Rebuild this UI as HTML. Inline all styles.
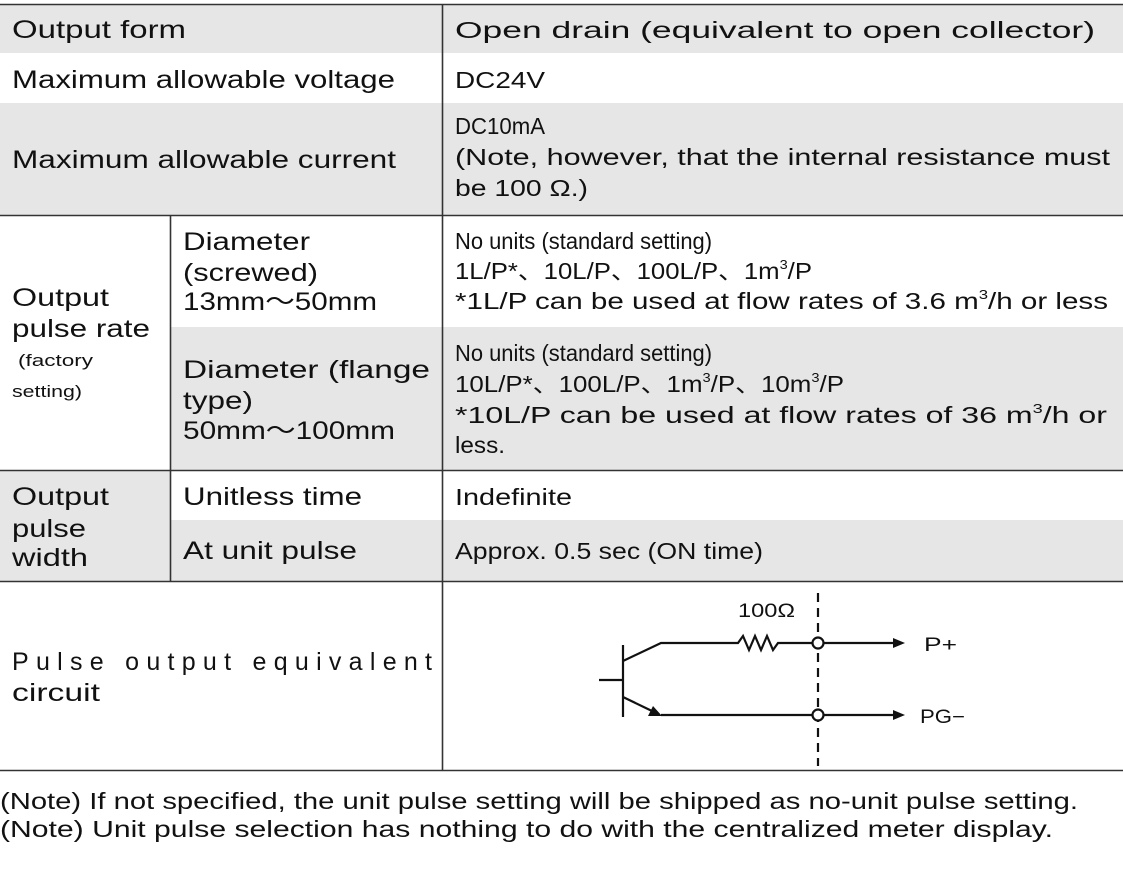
<!DOCTYPE html>
<html><head><meta charset="utf-8"><style>
html,body{margin:0;padding:0;background:#fff;}
svg{display:block;}
text{font-family:"Liberation Sans","Noto Sans CJK JP",sans-serif;fill:#111;}
.l{font-size:25px;}
.r{font-size:23px;}
.s{font-size:17px;}
</style></head><body>
<svg width="1123" height="881" viewBox="0 0 1123 881" xmlns="http://www.w3.org/2000/svg">
<rect x="0" y="4" width="1123" height="49" fill="#e6e6e6"/>
<rect x="0" y="103" width="1123" height="112" fill="#e6e6e6"/>
<rect x="170" y="327" width="953" height="143" fill="#e6e6e6"/>
<rect x="0" y="470" width="170" height="111" fill="#e6e6e6"/>
<rect x="170" y="520" width="953" height="61" fill="#e6e6e6"/>
<g stroke="#333" stroke-width="1.6">
<line x1="0" y1="4.5" x2="1123" y2="4.5"/>
<line x1="0" y1="215.5" x2="1123" y2="215.5"/>
<line x1="0" y1="470.5" x2="1123" y2="470.5"/>
<line x1="0" y1="581.5" x2="1123" y2="581.5"/>
<line x1="0" y1="770.5" x2="1123" y2="770.5"/>
<line x1="442.5" y1="4" x2="442.5" y2="770"/>
<line x1="170.5" y1="215" x2="170.5" y2="581"/>
</g>
<text class="l" x="12" y="38" textLength="174" lengthAdjust="spacingAndGlyphs">Output form</text>
<text class="l" x="12" y="88" textLength="383" lengthAdjust="spacingAndGlyphs">Maximum allowable voltage</text>
<text class="l" x="12" y="168" textLength="384" lengthAdjust="spacingAndGlyphs">Maximum allowable current</text>
<text class="l" x="12" y="306" textLength="97" lengthAdjust="spacingAndGlyphs">Output</text>
<text class="l" x="12" y="337" textLength="138" lengthAdjust="spacingAndGlyphs">pulse rate</text>
<text class="s" x="18" y="366" textLength="75" lengthAdjust="spacingAndGlyphs">(factory</text>
<text class="s" x="12" y="397" textLength="70" lengthAdjust="spacingAndGlyphs">setting)</text>
<text class="l" x="183" y="250" textLength="127" lengthAdjust="spacingAndGlyphs">Diameter</text>
<text class="l" x="183" y="281" textLength="135" lengthAdjust="spacingAndGlyphs">(screwed)</text>
<text class="l" x="183" y="310" textLength="194" lengthAdjust="spacingAndGlyphs">13mm～50mm</text>
<text class="l" x="183" y="378" textLength="247" lengthAdjust="spacingAndGlyphs">Diameter (flange</text>
<text class="l" x="183" y="409" textLength="70" lengthAdjust="spacingAndGlyphs">type)</text>
<text class="l" x="183" y="439" textLength="212" lengthAdjust="spacingAndGlyphs">50mm～100mm</text>
<text class="l" x="12" y="505" textLength="97" lengthAdjust="spacingAndGlyphs">Output</text>
<text class="l" x="12" y="537" textLength="74" lengthAdjust="spacingAndGlyphs">pulse</text>
<text class="l" x="12" y="566" textLength="76" lengthAdjust="spacingAndGlyphs">width</text>
<text class="l" x="183" y="505" textLength="179" lengthAdjust="spacingAndGlyphs">Unitless time</text>
<text class="l" x="183" y="559" textLength="174" lengthAdjust="spacingAndGlyphs">At unit pulse</text>
<text class="l" x="12" y="670" textLength="420" lengthAdjust="spacing">Pulse output equivalent</text>
<text class="l" x="12" y="701" textLength="88" lengthAdjust="spacingAndGlyphs">circuit</text>
<text class="r" x="455" y="38" textLength="640" lengthAdjust="spacingAndGlyphs">Open drain (equivalent to open collector)</text>
<text class="r" x="455" y="88" textLength="90" lengthAdjust="spacingAndGlyphs">DC24V</text>
<text class="r" x="455" y="134" textLength="90" lengthAdjust="spacingAndGlyphs">DC10mA</text>
<text class="r" x="455" y="165" textLength="655" lengthAdjust="spacingAndGlyphs">(Note, however, that the internal resistance must</text>
<text class="r" x="455" y="196" textLength="133" lengthAdjust="spacingAndGlyphs">be 100 Ω.)</text>
<text class="r" x="455" y="249" textLength="257" lengthAdjust="spacingAndGlyphs">No units (standard setting)</text>
<text class="r" x="455" y="279" textLength="357" lengthAdjust="spacingAndGlyphs">1L/P*、10L/P、100L/P、1m<tspan font-size="13" dy="-10">3</tspan><tspan dy="10">/P</tspan></text>
<text class="r" x="455" y="309" textLength="653" lengthAdjust="spacingAndGlyphs">*1L/P can be used at flow rates of 3.6 m<tspan font-size="13" dy="-10">3</tspan><tspan dy="10">/h or less</tspan></text>
<text class="r" x="455" y="361" textLength="257" lengthAdjust="spacingAndGlyphs">No units (standard setting)</text>
<text class="r" x="455" y="392" textLength="389" lengthAdjust="spacingAndGlyphs">10L/P*、100L/P、1m<tspan font-size="13" dy="-10">3</tspan><tspan dy="10">/P、10m</tspan><tspan font-size="13" dy="-10">3</tspan><tspan dy="10">/P</tspan></text>
<text class="r" x="455" y="423" textLength="652" lengthAdjust="spacingAndGlyphs">*10L/P can be used at flow rates of 36 m<tspan font-size="13" dy="-10">3</tspan><tspan dy="10">/h or</tspan></text>
<text class="r" x="455" y="453" textLength="50" lengthAdjust="spacingAndGlyphs">less.</text>
<text class="r" x="455" y="505" textLength="117" lengthAdjust="spacingAndGlyphs">Indefinite</text>
<text class="r" x="455" y="559" textLength="308" lengthAdjust="spacingAndGlyphs">Approx. 0.5 sec (ON time)</text>
<g stroke="#111" stroke-width="2.2" fill="none">
<line x1="818" y1="593" x2="818" y2="766" stroke-dasharray="9,6"/>
<line x1="623" y1="645" x2="623" y2="717"/>
<line x1="599" y1="680" x2="623" y2="680"/>
<polyline points="623,661 661,643 738,643 743,636 749,650 755,636 761,650 767,636 773,650 778,643 813,643"/>
<line x1="823" y1="643" x2="895" y2="643"/>
<polyline points="623,697 652,711"/>
<line x1="661" y1="715" x2="813" y2="715"/>
<line x1="823" y1="715" x2="895" y2="715"/>
<circle cx="818" cy="643" r="5.5" fill="#fff"/>
<circle cx="818" cy="715" r="5.5" fill="#fff"/>
</g>
<g fill="#111">
<polygon points="905,643 893,638 893,648"/>
<polygon points="905,715 893,710 893,720"/>
<polygon points="662,716 648,716 653,706"/>
</g>
<text x="738" y="617" font-size="19" textLength="57" lengthAdjust="spacingAndGlyphs">100Ω</text>
<text x="924" y="651" font-size="19" textLength="33" lengthAdjust="spacingAndGlyphs">P+</text>
<text x="920" y="723" font-size="19" textLength="45" lengthAdjust="spacingAndGlyphs">PG−</text>
<text class="r" x="0" y="809" textLength="1078" lengthAdjust="spacingAndGlyphs">(Note) If not specified, the unit pulse setting will be shipped as no-unit pulse setting.</text>
<text class="r" x="0" y="837" textLength="1053" lengthAdjust="spacingAndGlyphs">(Note) Unit pulse selection has nothing to do with the centralized meter display.</text>
</svg>
</body></html>
